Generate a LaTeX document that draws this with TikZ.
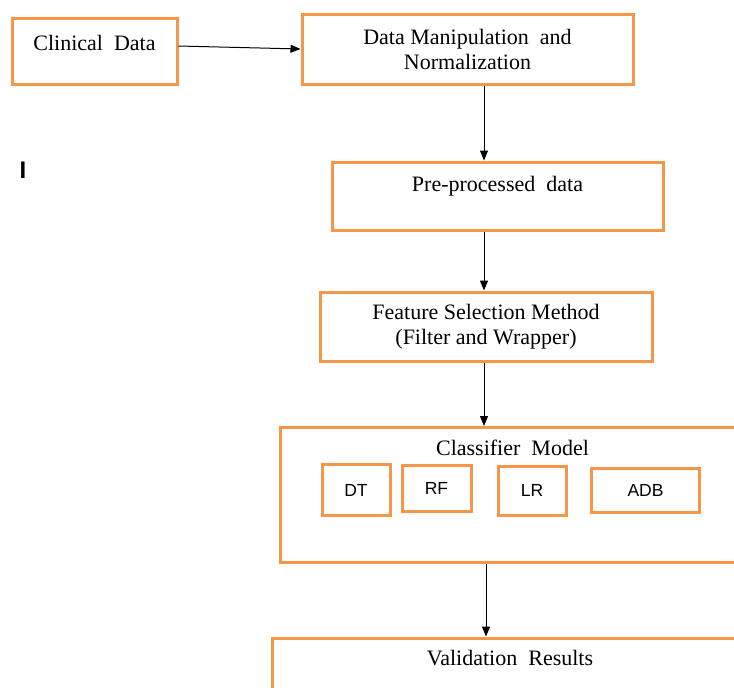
\documentclass[tikz,border=0pt]{standalone}
\usepackage{fontspec}
\setmainfont{Liberation Serif}
\setsansfont{Liberation Sans}
\usepackage{tikz}
\usetikzlibrary{positioning,arrows.meta}
\usepackage{xcolor}
\definecolor{boxorange}{RGB}{247,150,70}

\begin{document}
\begin{tikzpicture}[
x=1pt, y=-1pt,
>={Triangle[length=10pt,width=8pt]},
arr/.style={->, line width=1pt, black},
stepbox/.style={
rectangle,
draw=boxorange,
line width=3pt,
inner sep=0pt,
align=center,
font=\fontsize{22}{25}\selectfont
},
algbox/.style={
stepbox,
font=\sffamily\fontsize{17.5}{19}\selectfont
},
toplbl/.style={
font=\fontsize{22}{25}\selectfont
}
]
\useasboundingbox (0,0) rectangle (734,688);

% main pipeline
\node[stepbox, minimum width=165pt, minimum height=66pt,
label={[toplbl, yshift=8pt]center:Clinical\ \ Data}] (clin) at (94.5,51) {};
\node[stepbox, minimum width=331pt, minimum height=70pt] (dm) at (467.5,49)
{Data Manipulation\ \ and\\Normalization};
\node[stepbox, minimum width=331pt, minimum height=68pt,
label={[toplbl, yshift=10pt]center:Pre-processed\ \ data}] (pre) at (497.5,196) {};
\node[stepbox, minimum width=332pt, minimum height=69pt] (fs) at (486,326.5)
{Feature Selection Method\\(Filter and Wrapper)};
\node[stepbox, minimum width=465pt, minimum height=135pt,
label={[toplbl, anchor=center, yshift=-22pt]north:Classifier\ \ Model}] (cls) at (512.5,495) {};
\node[stepbox, minimum width=476pt, minimum height=60pt,
label={[toplbl, anchor=center, yshift=-22pt]north:Validation\ \ Results}] (val) at (510,668) {};

% classifiers
\node[algbox, minimum width=68pt, minimum height=51pt] (dt) at (356,490) {DT};
\node[algbox, minimum width=69pt, minimum height=46pt] (rf) at (436.5,488) {RF};
\node[algbox, minimum width=68pt, minimum height=49pt] (lr) at (532,490.5) {LR};
\node[algbox, minimum width=108pt, minimum height=44pt] (adb) at (645.5,490) {ADB};

\node[font=\sffamily\bfseries\fontsize{24}{26}\selectfont] (stray) at (23,170) {I};

\coordinate (axisa) at (484,0);
\coordinate (axisb) at (486,0);

\draw[arr] (clin.east) ++(0,-5) -- (dm.west);
\draw[arr] (dm.south -| axisa) -- (pre.north -| axisa);
\draw[arr] (pre.south -| axisa) -- (fs.north -| axisa);
\draw[arr] (fs.south -| axisa) -- (cls.north -| axisa);
\draw[arr] (cls.south -| axisb) -- (val.north -| axisb);

\end{tikzpicture}
\end{document}
